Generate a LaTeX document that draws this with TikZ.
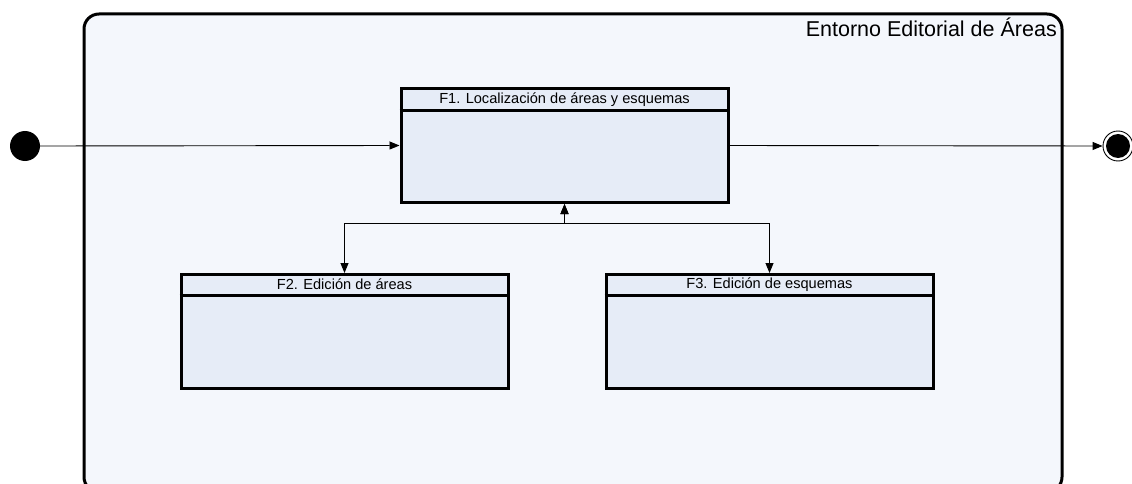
\documentclass[tikz,border=0pt]{standalone}
\usepackage{fontspec}
\setmainfont{Liberation Sans}
\usetikzlibrary{arrows.meta}
\definecolor{envfill}{HTML}{F4F7FC}
\definecolor{boxfill}{HTML}{E6ECF7}
\tikzset{
  statebox/.style={draw=black, line width=3pt, fill=boxfill, rectangle,
    minimum width=327pt, minimum height=114pt, inner sep=0pt},
  boxtitle/.style={font=\fontsize{14.6}{16}\selectfont, inner sep=0pt, anchor=center},
  flow/.style={line width=0.9pt, -{Triangle[length=10pt,width=8pt]}},
  both/.style={line width=0.9pt, {Triangle[length=10pt,width=8pt]}-{Triangle[length=10pt,width=8pt]}}
}
\begin{document}
\begin{tikzpicture}[x=1pt,y=-1pt]
  \useasboundingbox (0,0) rectangle (1132,484);
  \clip (0,0) rectangle (1132,484);
  \fill[white] (0,0) rectangle (1132,484);

  % surrounding environment
  \draw[line width=3pt, fill=envfill, rounded corners=15pt] (84,14) rectangle (1062,492);
  \node[anchor=base east, font=\fontsize{21.5}{24}\selectfont, inner sep=0pt] (envlbl) at (1057,37) {Entorno Editorial de Áreas};

  % states
  \node[statebox] (f1) at (564.5,145.5) {};
  \node[statebox] (f2) at (344.5,331.5) {};
  \node[statebox] (f3) at (769.5,331.5) {};

  \draw[line width=3pt] ([yshift=-24pt]f1.north west) -- ([yshift=-24pt]f1.north east);
  \draw[line width=3pt] ([yshift=-22pt]f2.north west) -- ([yshift=-22pt]f2.north east);
  \draw[line width=3pt] ([yshift=-22pt]f3.north west) -- ([yshift=-22pt]f3.north east);

  \node[boxtitle] (t1) at ([yshift=-12.5pt]f1.north) {F1. Localización de áreas y esquemas};
  \node[boxtitle] (t2) at ([yshift=-11.5pt]f2.north) {F2. Edición de áreas};
  \node[boxtitle] (t3) at ([yshift=-11.5pt]f3.north) {F3. Edición de esquemas};

  % initial and final pseudostates
  \fill[black] (25,146) circle (15pt);
  \coordinate (init) at (40,146);
  \node[circle, draw=black, line width=0.9pt, fill=white, minimum size=30pt, inner sep=0pt] (final) at (1118,146) {};
  \fill[black] (final.center) circle (12pt);

  % transitions
  \draw[flow] (init) -- (f1.west);
  \draw[flow] (f1.east) -- (final.west);
  \coordinate (jn) at (564.5,223);
  \draw[both] (f1.south) -- (jn) -| (f2.north);
  \draw[both] (f1.south) -- (jn) -| (f3.north);
\end{tikzpicture}
\end{document}
